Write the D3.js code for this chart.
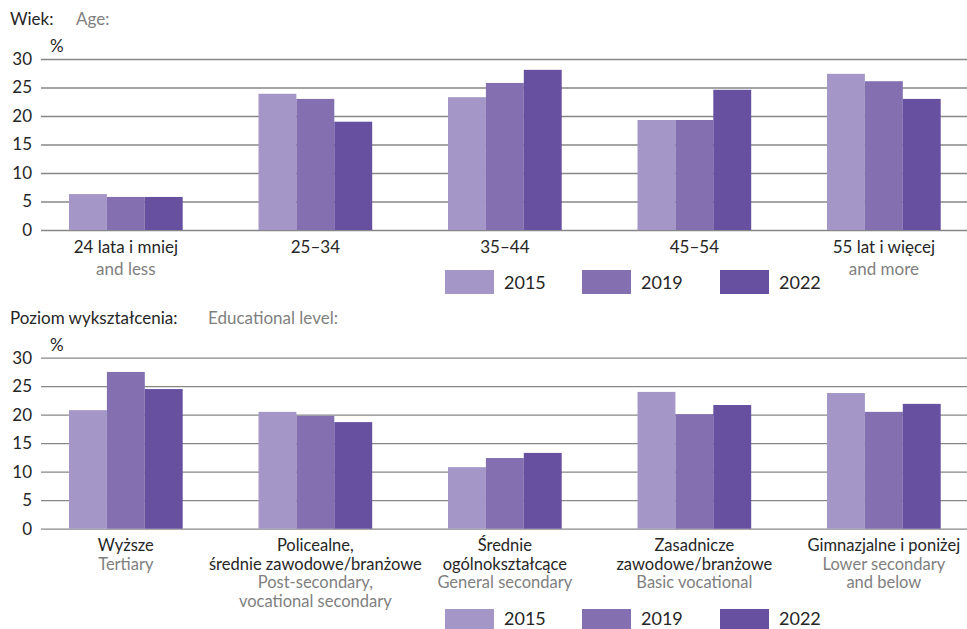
<!DOCTYPE html>
<html>
<head>
<meta charset="utf-8">
<script src="https://cdn.jsdelivr.net/npm/d3@7"></script>
<style>
  html, body { margin: 0; padding: 0; background: #fff; }
  svg { display: block; font-family: Lato, "Open Sans", sans-serif; }
</style>
</head>
<body>
<svg id="chart" width="967" height="629"></svg>
<script>
// Series
const years = ["2015", "2019", "2022"];
const yTicks = [0, 5, 10, 15, 20, 25, 30];

// Age groups
const ageCatsPl = [["24 lata i mniej"], ["25–34"], ["35–44"], ["45–54"], ["55 lat i więcej"]];
const ageCatsEn = [["and less"], [], [], [], ["and more"]];
const age2015 = [6.3, 23.9, 23.3, 19.3, 27.4];
const age2019 = [5.8, 23.0, 25.8, 19.3, 26.1];
const age2022 = [5.8, 19.0, 28.1, 24.6, 23.0];

// Educational level
const eduCatsPl = [["Wyższe"], ["Policealne,", "średnie zawodowe/branżowe"], ["Średnie", "ogólnokształcące"], ["Zasadnicze", "zawodowe/branżowe"], ["Gimnazjalne i poniżej"]];
const eduCatsEn = [["Tertiary"], ["Post-secondary,", "vocational secondary"], ["General secondary"], ["Basic vocational"], ["Lower secondary", "and below"]];
const edu2015 = [20.8, 20.5, 10.8, 24.0, 23.8];
const edu2019 = [27.5, 19.8, 12.4, 20.1, 20.5];
const edu2022 = [24.5, 18.7, 13.3, 21.7, 21.9];

const colors = ["#a497c8", "#8470b0", "#67509f"];
const darkText = "#262626";
const greyText = "#7f7f7f";

const svg = d3.select("#chart");

function panel(opts) {
  const { top, titlePl, titleEn, titleEnX, catsPl, catsEn, series, lineH, labelSize, legendY, legendTextDy } = opts;
  const g = svg.append("g");
  const y0 = top + 171, y30 = top;

  // titles
  g.append("text").attr("x", 10).attr("y", top - 34).attr("font-size", 17)
    .attr("fill", darkText).text(titlePl);
  g.append("text").attr("x", titleEnX).attr("y", top - 34).attr("font-size", 17)
    .attr("fill", greyText).text(titleEn);
  g.append("text").attr("x", 50).attr("y", top - 7).attr("font-size", 17)
    .attr("fill", darkText).text("%");

  const y = d3.scaleLinear().domain([0, 30]).range([y0, y30]);
  const keys = d3.range(catsPl.length);
  const x0 = d3.scaleBand().domain(keys).range([31.1, 978.6]).paddingInner(0.4).paddingOuter(0.2);
  const x1 = d3.scaleBand().domain(years).range([0, x0.bandwidth()]).padding(0);

  // gridlines + tick labels
  const axis = d3.axisLeft(y).tickValues(yTicks).tickSize(-926).tickPadding(9).tickFormat(d3.format("d"));
  const ax = g.append("g").attr("transform", "translate(41,0)").call(axis);
  ax.select(".domain").remove();
  ax.selectAll(".tick line").attr("stroke", "#878787").attr("stroke-width", 1.3);
  ax.selectAll(".tick text").attr("font-size", 17).attr("fill", darkText)
    .attr("font-family", "Lato, sans-serif");

  // bars
  const grp = g.selectAll("g.cat").data(keys).join("g").attr("class", "cat")
    .attr("transform", d => `translate(${x0(d)},0)`);
  grp.selectAll("rect").data(i => years.map((yr, s) => ({ yr, s, v: series[s][i] })))
    .join("rect")
    .attr("x", d => x1(d.yr))
    .attr("width", x1.bandwidth())
    .attr("y", d => y(d.v))
    .attr("height", d => y(0) - y(d.v))
    .attr("fill", d => colors[d.s]);

  // category labels: Polish lines first, English below in grey
  keys.forEach(i => {
    const cx = x0(i) + x0.bandwidth() / 2;
    const lines = catsPl[i].map(t => ({ t, c: darkText })).concat(catsEn[i].map(t => ({ t, c: greyText })));
    lines.forEach((l, k) => {
      g.append("text").attr("x", cx).attr("y", y0 + 22.5 + k * lineH)
        .attr("text-anchor", "middle").attr("font-size", labelSize).attr("fill", l.c).text(l.t);
    });
  });

  // legend
  const legX = [445, 582, 720];
  years.forEach((yr, s) => {
    g.append("rect").attr("x", legX[s]).attr("y", legendY).attr("width", 49).attr("height", 24)
      .attr("fill", colors[s]);
    g.append("text").attr("x", legX[s] + 59).attr("y", legendY + legendTextDy).attr("font-size", 18)
      .attr("fill", darkText).text(yr);
  });
}

panel({
  top: 59, titlePl: "Wiek:", titleEn: "Age:", titleEnX: 76,
  catsPl: ageCatsPl, catsEn: ageCatsEn, series: [age2015, age2019, age2022],
  lineH: 22, labelSize: 17, legendY: 270, legendTextDy: 19
});

panel({
  top: 357.7, titlePl: "Poziom wykształcenia:", titleEn: "Educational level:", titleEnX: 208,
  catsPl: eduCatsPl, catsEn: eduCatsEn, series: [edu2015, edu2019, edu2022],
  lineH: 18.5, labelSize: 16.5, legendY: 609, legendTextDy: 16
});
</script>
</body>
</html>
